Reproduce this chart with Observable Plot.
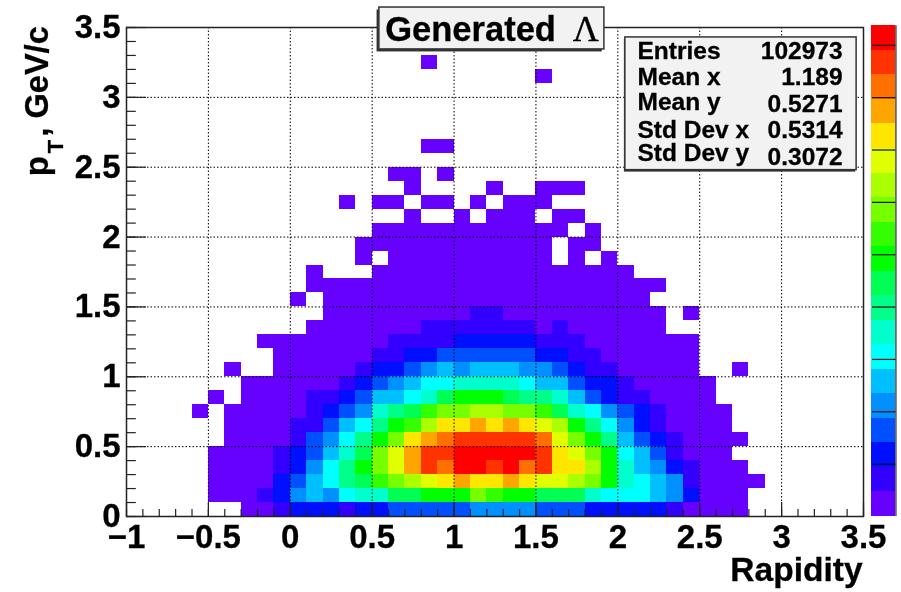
<!DOCTYPE html>
<html>
<head>
<meta charset="utf-8">
<style>
html,body{margin:0;padding:0;background:#fff;}
svg{display:block;filter:blur(0.4px);}
svg text{stroke:#000;stroke-width:.3px;}
</style>
<script src="https://cdn.jsdelivr.net/npm/d3@7"></script>
<script src="https://cdn.jsdelivr.net/npm/@observablehq/plot@0.6"></script>
</head>
<body>
<div id="chart"></div>
<script>
// Histogram bin contents as colour-band index (0 = empty, 1..20 = palette band). Row 0 is the lowest pT row.
const binLevels = [
 [0,0,0,0,0, 0,0,1,1,2, 3,3,3,2,3, 3,4,4,4,4, 4,5,5,5,5, 4,4,4,3,3, 3,3,3,2,1, 1,1,1,0,0, 0,0,0,0,0],
 [0,0,0,0,0, 1,1,1,2,3, 5,6,5,7,8, 8,10,10,11,11, 11,13,12,11,11, 10,10,10,8,7, 7,7,6,5,3, 1,1,1,0,0, 0,0,0,0,0],
 [0,0,0,0,0, 1,1,1,1,3, 4,6,7,9,10, 12,13,14,15,16, 17,16,16,17,16, 15,15,14,13,11, 8,7,6,5,2, 1,1,1,1,0, 0,0,0,0,0],
 [0,0,0,0,0, 1,1,1,1,2, 3,5,7,9,11, 13,15,17,19,18, 20,20,19,20,18, 19,16,16,14,11, 8,6,5,3,2, 1,1,1,0,0, 0,0,0,0,0],
 [0,0,0,0,0, 1,1,1,1,2, 3,4,6,8,10, 13,15,17,19,19, 20,20,20,20,20, 19,16,15,13,11, 7,6,4,2,1, 1,1,0,0,0, 0,0,0,0,0],
 [0,0,0,0,0, 0,1,1,1,1, 2,4,5,7,9, 11,13,16,17,18, 19,19,19,19,19, 18,15,13,11,9, 6,4,3,2,1, 1,1,1,0,0, 0,0,0,0,0],
 [0,0,0,0,0, 0,1,1,1,1, 2,2,4,6,7, 9,11,12,14,16, 16,17,16,17,16, 15,14,11,9,7, 5,3,2,1,1, 1,1,0,0,0, 0,0,0,0,0],
 [0,0,0,0,1, 0,1,1,1,1, 1,2,3,4,5, 8,9,10,12,13, 13,14,14,13,13, 12,10,8,7,5, 4,3,2,1,1, 1,1,0,0,0, 0,0,0,0,0],
 [0,0,0,0,0, 1,0,1,1,1, 1,2,2,3,4, 6,6,7,8,10, 11,11,11,10,9, 9,8,6,4,3, 2,2,1,1,1, 1,0,0,0,0, 0,0,0,0,0],
 [0,0,0,0,0, 0,0,1,1,1, 1,1,1,2,3, 4,5,6,7,7, 8,8,8,8,7, 6,6,4,3,3, 2,1,1,1,1, 1,0,0,0,0, 0,0,0,0,0],
 [0,0,0,0,0, 0,1,0,0,1, 1,1,1,1,2, 3,3,4,5,6, 5,6,6,6,5, 5,4,3,2,2, 1,1,1,1,1, 0,0,1,0,0, 0,0,0,0,0],
 [0,0,0,0,0, 0,0,0,0,1, 1,1,1,1,1, 2,2,3,3,4, 4,4,4,4,4, 3,3,2,2,1, 1,1,1,1,1, 0,0,0,0,0, 0,0,0,0,0],
 [0,0,0,0,0, 0,0,0,1,1, 1,1,1,1,1, 1,2,2,2,2, 3,3,3,3,3, 2,2,2,1,1, 1,1,1,1,1, 0,0,0,0,0, 0,0,0,0,0],
 [0,0,0,0,0, 0,0,0,0,0, 0,1,1,1,1, 1,1,1,2,2, 2,2,2,2,2, 1,2,1,1,1, 1,1,1,0,0, 0,0,0,0,0, 0,0,0,0,0],
 [0,0,0,0,0, 0,0,0,0,0, 0,0,1,1,1, 1,1,1,1,1, 1,2,2,1,1, 1,1,1,1,1, 1,1,1,0,1, 0,0,0,0,0, 0,0,0,0,0],
 [0,0,0,0,0, 0,0,0,0,0, 1,0,1,1,1, 1,1,1,1,1, 1,1,1,1,1, 1,1,1,1,1, 1,1,0,0,0, 0,0,0,0,0, 0,0,0,0,0],
 [0,0,0,0,0, 0,0,0,0,0, 0,1,1,1,1, 1,1,1,1,1, 1,1,1,1,1, 1,1,1,1,1, 1,1,1,0,0, 0,0,0,0,0, 0,0,0,0,0],
 [0,0,0,0,0, 0,0,0,0,0, 0,1,0,0,0, 1,1,1,1,1, 1,1,1,1,1, 1,1,1,1,1, 1,0,0,0,0, 0,0,0,0,0, 0,0,0,0,0],
 [0,0,0,0,0, 0,0,0,0,0, 0,0,0,0,1, 0,1,1,1,1, 1,1,1,1,1, 1,0,1,0,1, 0,0,0,0,0, 0,0,0,0,0, 0,0,0,0,0],
 [0,0,0,0,0, 0,0,0,0,0, 0,0,0,0,1, 1,1,1,1,1, 1,1,1,1,1, 1,0,1,1,0, 0,0,0,0,0, 0,0,0,0,0, 0,0,0,0,0],
 [0,0,0,0,0, 0,0,0,0,0, 0,0,0,0,0, 1,1,1,1,1, 1,1,1,1,1, 1,1,0,1,0, 0,0,0,0,0, 0,0,0,0,0, 0,0,0,0,0],
 [0,0,0,0,0, 0,0,0,0,0, 0,0,0,0,0, 0,0,1,0,0, 1,0,1,1,1, 0,1,1,0,0, 0,0,0,0,0, 0,0,0,0,0, 0,0,0,0,0],
 [0,0,0,0,0, 0,0,0,0,0, 0,0,0,1,0, 1,1,0,1,1, 0,1,0,1,1, 1,0,0,0,0, 0,0,0,0,0, 0,0,0,0,0, 0,0,0,0,0],
 [0,0,0,0,0, 0,0,0,0,0, 0,0,0,0,0, 0,0,1,0,0, 0,0,1,0,0, 1,1,1,0,0, 0,0,0,0,0, 0,0,0,0,0, 0,0,0,0,0],
 [0,0,0,0,0, 0,0,0,0,0, 0,0,0,0,0, 0,1,1,0,1, 0,0,0,0,0, 0,0,0,0,0, 0,0,0,0,0, 0,0,0,0,0, 0,0,0,0,0],
 [0,0,0,0,0, 0,0,0,0,0, 0,0,0,0,0, 0,0,0,0,0, 0,0,0,0,0, 0,0,0,0,0, 0,0,0,0,0, 0,0,0,0,0, 0,0,0,0,0],
 [0,0,0,0,0, 0,0,0,0,0, 0,0,0,0,0, 0,0,0,1,1, 0,0,0,0,0, 0,0,0,0,0, 0,0,0,0,0, 0,0,0,0,0, 0,0,0,0,0],
 [0,0,0,0,0, 0,0,0,0,0, 0,0,0,0,0, 0,0,0,0,0, 0,0,0,0,0, 0,0,0,0,0, 0,0,0,0,0, 0,0,0,0,0, 0,0,0,0,0],
 [0,0,0,0,0, 0,0,0,0,0, 0,0,0,0,0, 0,0,0,0,0, 0,0,0,0,0, 0,0,0,0,0, 0,0,0,0,0, 0,0,0,0,0, 0,0,0,0,0],
 [0,0,0,0,0, 0,0,0,0,0, 0,0,0,0,0, 0,0,0,0,0, 0,0,0,0,0, 0,0,0,0,0, 0,0,0,0,0, 0,0,0,0,0, 0,0,0,0,0],
 [0,0,0,0,0, 0,0,0,0,0, 0,0,0,0,0, 0,0,0,0,0, 0,0,0,0,0, 0,0,0,0,0, 0,0,0,0,0, 0,0,0,0,0, 0,0,0,0,0],
 [0,0,0,0,0, 0,0,0,0,0, 0,0,0,0,0, 0,0,0,0,0, 0,0,0,0,0, 1,0,0,0,0, 0,0,0,0,0, 0,0,0,0,0, 0,0,0,0,0],
 [0,0,0,0,0, 0,0,0,0,0, 0,0,0,0,0, 0,0,0,1,0, 0,0,0,0,0, 0,0,0,0,0, 0,0,0,0,0, 0,0,0,0,0, 0,0,0,0,0]
];
const palette = ["#6600ff","#3300ff","#0010ff","#0050ff","#0090ff","#00bfff","#00ffff","#00ffcc","#00ff88","#00ff55",
                 "#00ff00","#33ff00","#77ff00","#aaff00","#e0ff00","#ffe600","#ffa500","#ff7000","#ff3300","#ff0000"];
const bands = d3.range(1, 21);
const zTicks = [100,200,300,400,500,600,700,800,900];
const zMax = 934;
const xMajor = [-1,-0.5,0,0.5,1,1.5,2,2.5,3,3.5];
const xLabels = ["\u22121","\u22120.5","0","0.5","1","1.5","2","2.5","3","3.5"];
const yMajor = [0,0.5,1,1.5,2,2.5,3,3.5];
const yLabels = ["0","0.5","1","1.5","2","2.5","3","3.5"];
const xGrid = [-0.5,0,0.5,1,1.5,2,2.5,3];
const yGrid = [0.5,1,1.5,2,2.5,3];
const xMinor = d3.range(-10,36).map(i=>i/10);
const yMinor = d3.range(0,36).map(i=>i/10);
const statNames = ["Entries","Mean x","Mean y","Std Dev x","Std Dev y"];
const statValues = ["102973","1.189","0.5271","0.5314","0.3072"];

const cells = binLevels.flatMap((row,r)=>row.map((level,c)=>({
  x1:c/10-1,x2:(c+1)/10-1,y1:r/10,y2:(r+1)/10,level}))).filter(d=>d.level>0);
const barTop = 3.512;
const barCells = bands.map(level=>({level,y1:(level-1)/20*barTop,y2:level/20*barTop}));
const ink = "#222";

const statNameY = [3.278,3.086,2.907,2.707,2.543];
const statValueY = [3.278,3.086,2.893,2.707,2.514];

const plot = Plot.plot({
  width:901,height:592,marginLeft:126,marginRight:38,marginTop:27,marginBottom:76,
  style:{fontFamily:"'Liberation Sans',Arial,sans-serif",fontWeight:700,background:"#fff",color:"#000",overflow:"visible"},
  x:{domain:[-1,3.5]},
  y:{domain:[0,3.5]},
  color:{type:"ordinal",domain:bands,range:palette},
  marks:[
    Plot.rect(cells,{x1:"x1",x2:"x2",y1:"y1",y2:"y2",fill:"level",shapeRendering:"crispEdges"}),
    Plot.gridX(xGrid,{stroke:"#000",strokeOpacity:1,strokeWidth:1,strokeDasharray:"1.5,2"}),
    Plot.gridY(yGrid,{stroke:"#000",strokeOpacity:1,strokeWidth:1,strokeDasharray:"1.5,2"}),
    Plot.ruleX(xMinor,{y1:0,y2:0.05,stroke:ink,strokeWidth:1.2}),
    Plot.ruleX(xMajor,{y1:0,y2:0.1,stroke:ink,strokeWidth:1.2}),
    Plot.ruleY(yMinor,{x1:-1,x2:-0.94,stroke:ink,strokeWidth:1.2}),
    Plot.ruleY(yMajor,{x1:-1,x2:-0.878,stroke:ink,strokeWidth:1.2}),
    Plot.frame({stroke:ink,strokeWidth:1.5}),
    Plot.axisX(xMajor,{anchor:"bottom",tickSize:0,tickPadding:8,fontSize:33,label:null,
      tickFormat:d=>xLabels[xMajor.indexOf(d)]}),
    Plot.axisY(yMajor,{anchor:"left",tickSize:0,tickPadding:6,fontSize:33,label:null,
      tickFormat:d=>yLabels[yMajor.indexOf(d)]}),
    // colour bar
    Plot.rect(barCells,{x1:3.547,x2:3.698,y1:"y1",y2:"y2",fill:"level",shapeRendering:"crispEdges"}),
    Plot.ruleY(zTicks,{y:d=>d/zMax*3.5,x1:3.555,x2:3.698,stroke:"#111",strokeWidth:1.2}),
    Plot.ruleX([3.698],{y1:0,y2:3.512,stroke:ink,strokeWidth:1.2}),
    // axis titles
    Plot.text(["Rapidity"],{x:3.494,y:-0.464,textAnchor:"end",lineAnchor:"bottom",fontSize:33.5,fill:"#000"}),
    Plot.text(["p"],{x:-1.478,y:2.436,rotate:-90,textAnchor:"start",lineAnchor:"bottom",fontSize:33,fill:"#000"}),
    Plot.text(["T"],{x:-1.39,y:2.6,rotate:-90,textAnchor:"start",lineAnchor:"bottom",fontSize:22,fill:"#000"}),
    Plot.text([", GeV/c"],{x:-1.478,y:2.72,rotate:-90,textAnchor:"start",lineAnchor:"bottom",fontSize:32.5,fill:"#000"}),
    // title box
    Plot.rect([0],{x1:0.53,x2:1.905,y1:3.625,y2:3.325,fill:"#333"}),
    Plot.rect([0],{x1:0.544,x2:1.918,y1:3.643,y2:3.343,fill:"#f2f2f2",stroke:"#333",strokeWidth:1.5}),
    Plot.text(["Generated"],{x:0.58,y:3.40,textAnchor:"start",lineAnchor:"bottom",fontSize:34.5,fill:"#000"}),
    Plot.text(["\u039b"],{x:1.805,y:3.40,textAnchor:"middle",lineAnchor:"bottom",fontSize:36,fontWeight:400,fontFamily:"'Liberation Serif',serif",fill:"#000"}),
    // stats box
    Plot.rect([0],{x1:2.04,x2:3.452,y1:3.415,y2:2.465,fill:"#333"}),
    Plot.rect([0],{x1:2.046,x2:3.458,y1:3.429,y2:2.479,fill:"#f2f2f2",stroke:"#333",strokeWidth:1.5}),
    Plot.text(statNames,{x:2.12,y:(d,i)=>statNameY[i],textAnchor:"start",lineAnchor:"bottom",fontSize:24.5,fill:"#000"}),
    Plot.text(statValues,{x:3.372,y:(d,i)=>statValueY[i],textAnchor:"end",lineAnchor:"bottom",fontSize:24.5,fill:"#000"})
  ]
});
document.getElementById("chart").append(plot);
</script>
</body>
</html>
